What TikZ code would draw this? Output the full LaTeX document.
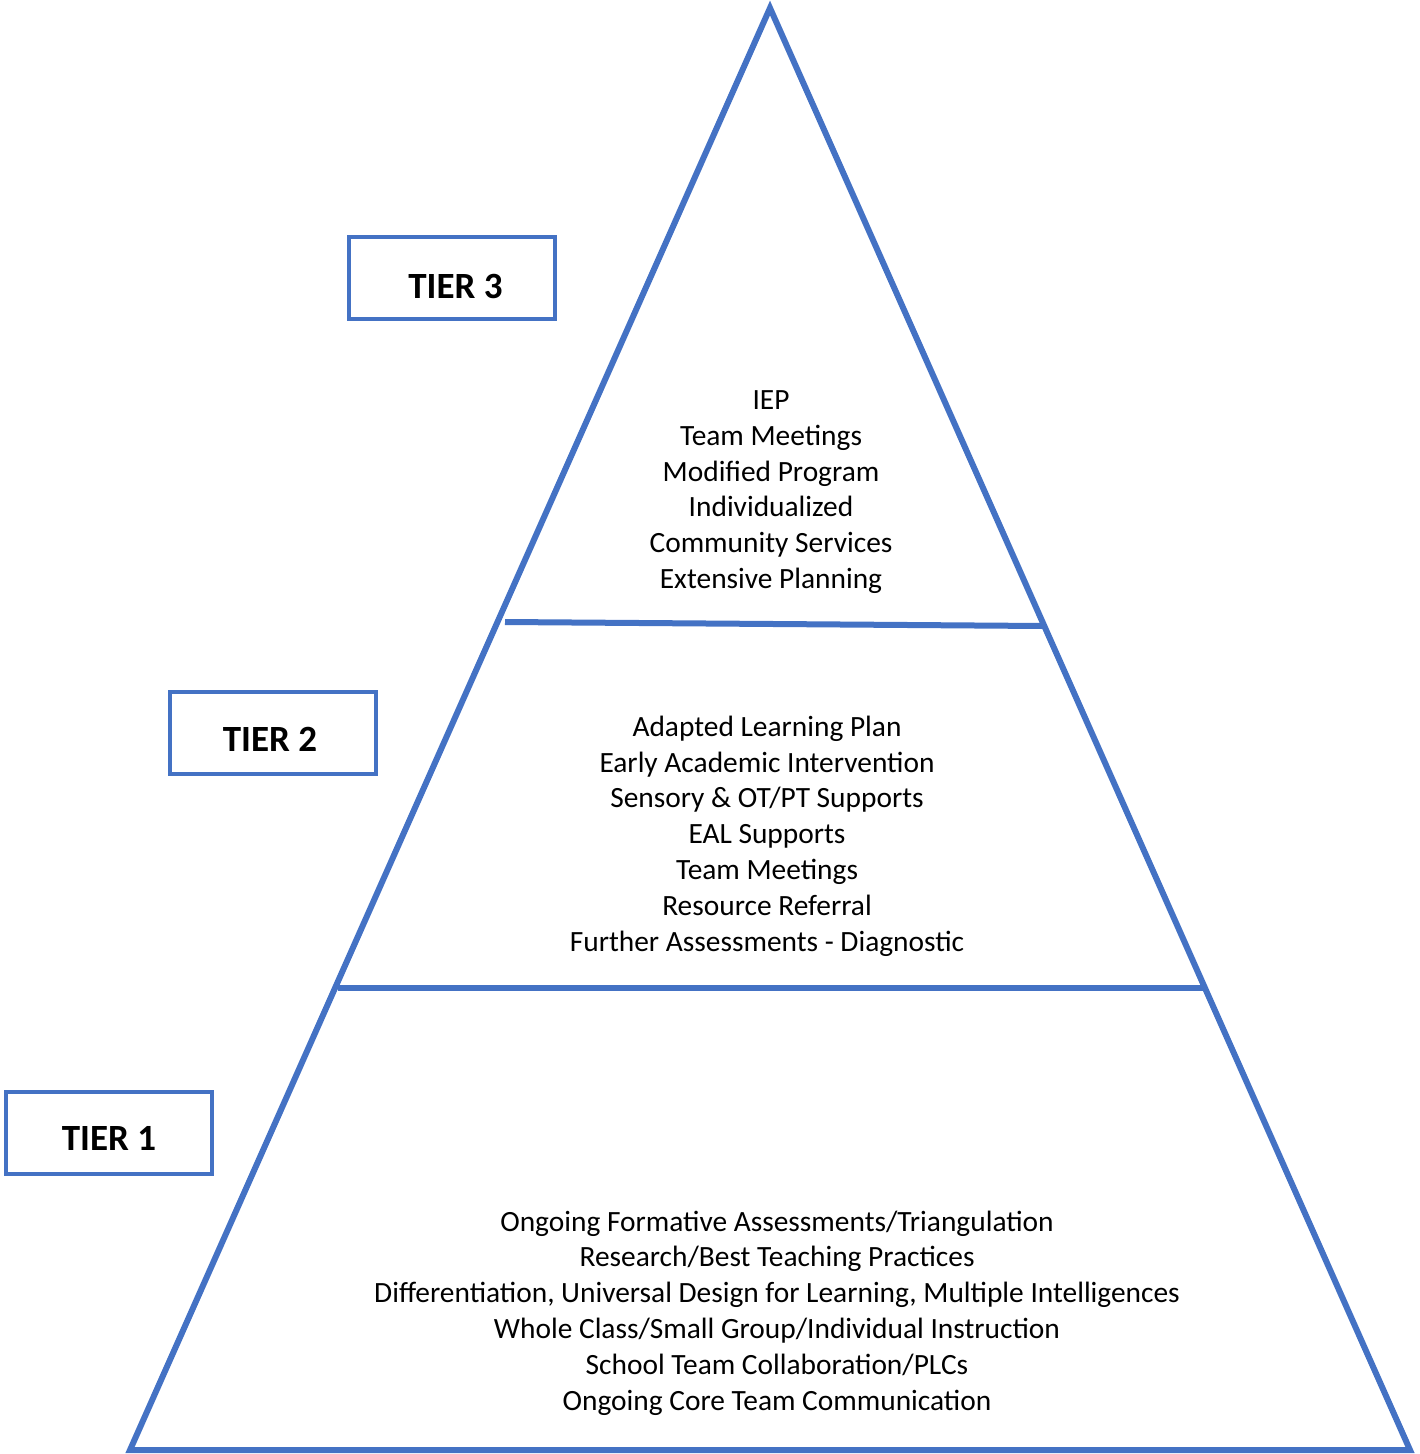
\documentclass[tikz,border=0pt]{standalone}
\usepackage{fontspec}
\setmainfont{Carlito}
\usepackage{tikz}
\usetikzlibrary{positioning,calc}
\definecolor{kek}{HTML}{4472C4}
\tikzset{
  szint/.style={draw=kek,line width=2pt,fill=white,inner sep=0pt,minimum width=103pt,minimum height=41pt,
                font=\fontsize{18.5}{20}\selectfont\bfseries,text depth=0pt},
  lista/.style={align=center,inner sep=0pt,font=\fontsize{14.7}{17.9}\selectfont},
  fal/.style={draw=kek,line width=3pt,line join=miter},
}
\begin{document}
\begin{tikzpicture}[x=0.5pt,y=-0.5pt]
  \useasboundingbox (0,0) rectangle (1419,1454);
  \coordinate (csucs) at (770,8);
  \coordinate (bal) at (130,1450);
  \coordinate (jobb) at (1410,1450);
  \draw[fal] (csucs) -- (jobb) -- (bal) -- cycle;
  \coordinate (h1) at (505,622);
  \coordinate (h2) at (1042,626);
  \coordinate (k1) at (338,988);
  \coordinate (k2) at (1203,988);
  \draw[fal] (h1) -- (h2);
  \draw[fal] (k1) -- (k2);
  \node[szint] (t3) at (451.5,278) {\raisebox{-8.5pt}{\hspace{4pt}TIER 3}};
  \node[szint] (t2) at (273,733) {\raisebox{-6pt}{\hspace{-3pt}TIER 2}};
  \node[szint] (t1) at (109,1132.5) {\raisebox{-5.5pt}{TIER 1}};
  \node[lista] (l3) at (771,492) {IEP\\Team Meetings\\Modified Program\\Individualized\\
    Community Services\\Extensive Planning};
  \node[lista] (l2) at (767,836) {Adapted Learning Plan\\Early Academic Intervention\\
    Sensory \& OT/PT Supports\\EAL Supports\\Team Meetings\\Resource Referral\\
    Further Assessments - Diagnostic};
  \node[lista] (l1) at (777,1313) {Ongoing Formative Assessments/Triangulation\\
    Research/Best Teaching Practices\\
    Differentiation, Universal Design for Learning, Multiple Intelligences\\
    Whole Class/Small Group/Individual Instruction\\School Team Collaboration/PLCs\\
    Ongoing Core Team Communication};
\end{tikzpicture}
\end{document}
